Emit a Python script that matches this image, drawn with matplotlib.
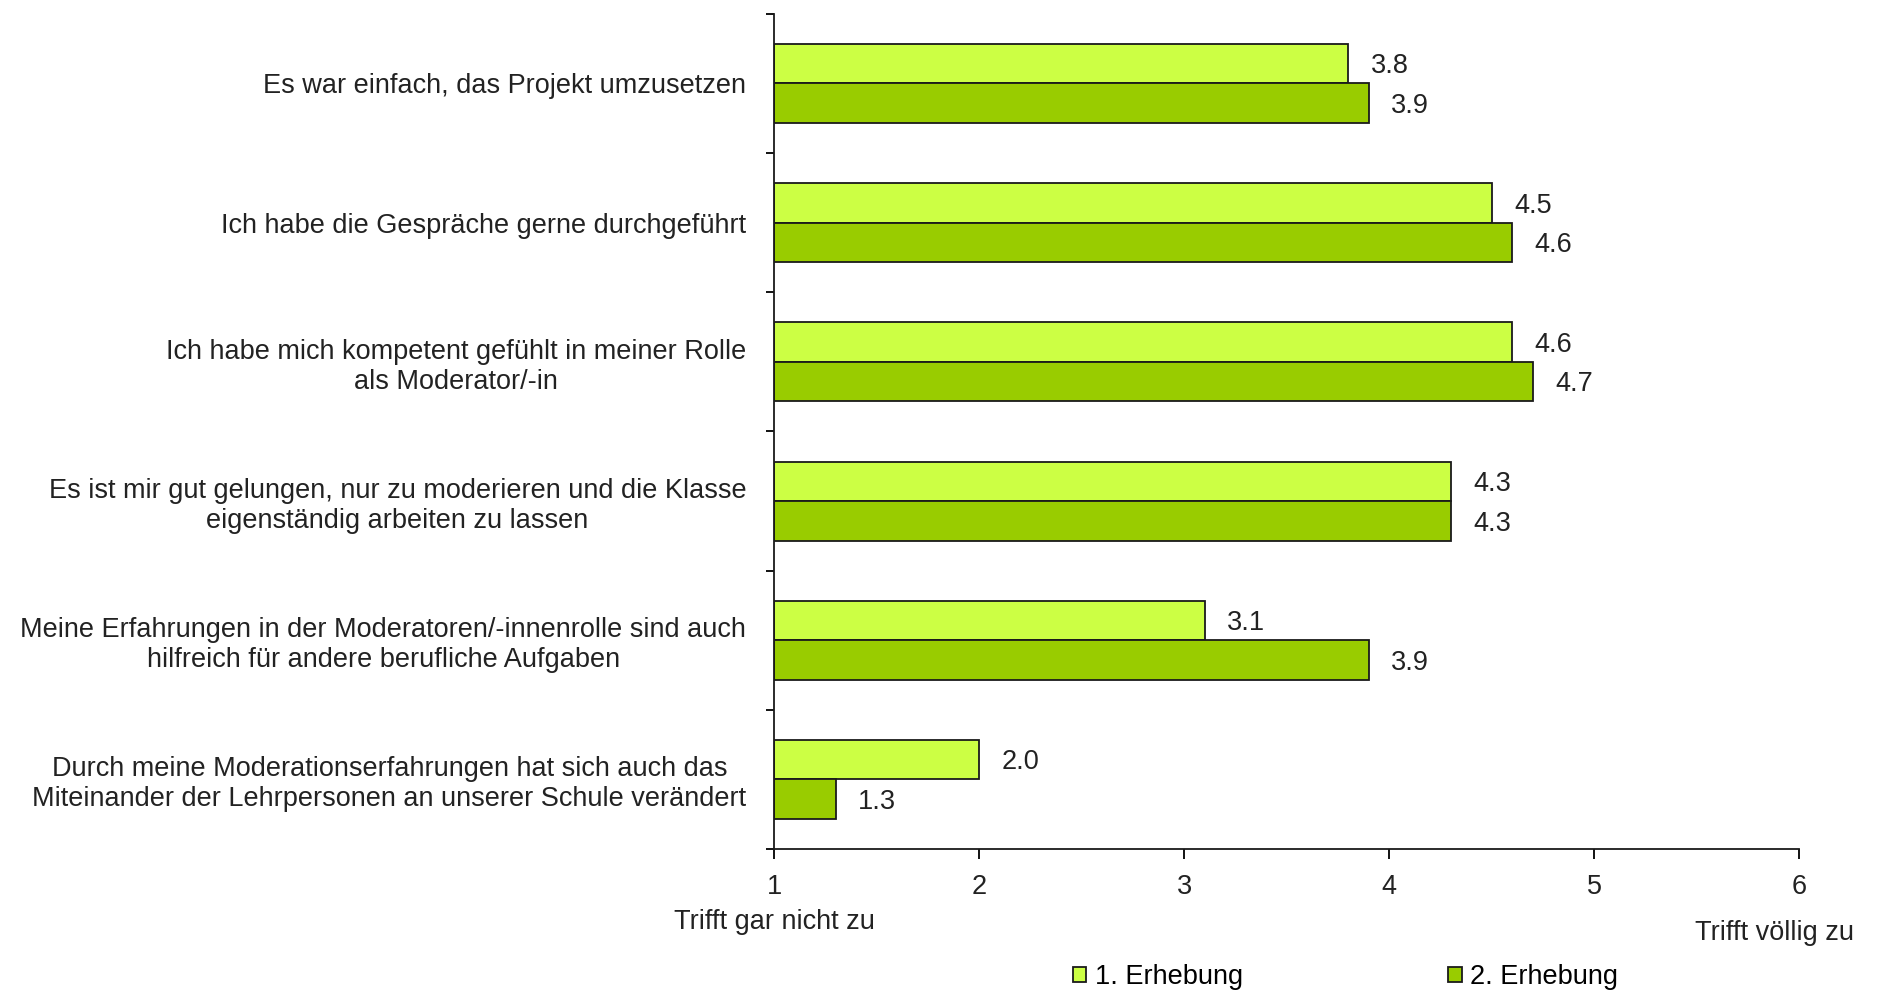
import matplotlib.pyplot as plt
import numpy as np

categories = [
    "Es war einfach, das Projekt umzusetzen",
    "Ich habe die Gespräche gerne durchgeführt",
    "Ich habe mich kompetent gefühlt in meiner Rolle\nals Moderator/-in",
    "Es ist mir gut gelungen, nur zu moderieren und die Klasse\neigenständig arbeiten zu lassen",
    "Meine Erfahrungen in der Moderatoren/-innenrolle sind auch\nhilfreich für andere berufliche Aufgaben",
    "Durch meine Moderationserfahrungen hat sich auch das\nMiteinander der Lehrpersonen an unserer Schule verändert",
]
erhebung1 = [3.8, 4.5, 4.6, 4.3, 3.1, 2.0]
erhebung2 = [3.9, 4.6, 4.7, 4.3, 3.9, 1.3]
series_names = ["1. Erhebung", "2. Erhebung"]
x_ticks = [1, 2, 3, 4, 5, 6]

plt.rcParams['font.family'] = ['Liberation Sans', 'DejaVu Sans']
fs = 19.5

fig = plt.figure(figsize=(18.79, 9.9), dpi=100)
ax = fig.add_axes([0.412, 0.1424, 0.5454, 0.8436])

y = np.arange(len(categories))
h = 0.284
base = 1
b1 = ax.barh(y - h / 2, np.array(erhebung1) - base, left=base, height=h,
             color='#ccff44', edgecolor='#1a1a1a', linewidth=1.3, label=series_names[0])
b2 = ax.barh(y + h / 2, np.array(erhebung2) - base, left=base, height=h,
             color='#99cc00', edgecolor='#1a1a1a', linewidth=1.3, label=series_names[1])

for vals, offs in [(erhebung1, -h / 2), (erhebung2, h / 2)]:
    for i, v in enumerate(vals):
        ax.text(v + 0.11, i + offs + 0.02, f"{v:.1f}", va='center', ha='left',
                fontsize=fs, color='#222222')

ax.set_xlim(1, 6)
ax.set_ylim(len(categories) - 0.5, -0.5)
ax.set_xticks(x_ticks)
ax.set_xticklabels([str(t) for t in x_ticks], fontsize=fs, color='#222222')

ax.set_yticks(y)
ax.set_yticklabels(categories, fontsize=fs, color='#222222', multialignment='center')
ax.tick_params(axis='y', which='major', length=0, pad=20)
ax.set_yticks(np.arange(-0.5, len(categories), 1.0), minor=True)
ax.tick_params(axis='y', which='minor', length=6, width=1.3, direction='out')
ax.tick_params(axis='x', length=7, width=1.3, direction='out', pad=11)

for s in ['top', 'right']:
    ax.spines[s].set_visible(False)
for s in ['left', 'bottom']:
    ax.spines[s].set_linewidth(1.3)
    ax.spines[s].set_color('#1a1a1a')

ax.text(1, -0.087, "Trifft gar nicht zu", transform=ax.get_xaxis_transform(),
        ha='center', va='center', fontsize=fs, color='#222222')
ax.text(5.88, -0.1, "Trifft völlig zu", transform=ax.get_xaxis_transform(),
        ha='center', va='center', fontsize=fs, color='#222222')

fig.legend(handles=[b1, b2], loc='lower left', bbox_to_anchor=(0.558, -0.025),
           ncol=2, frameon=False, fontsize=fs, handlelength=0.5, handleheight=0.5,
           handletextpad=0.3, columnspacing=7.6)

fig.savefig("out.png", dpi=100, facecolor='white')
